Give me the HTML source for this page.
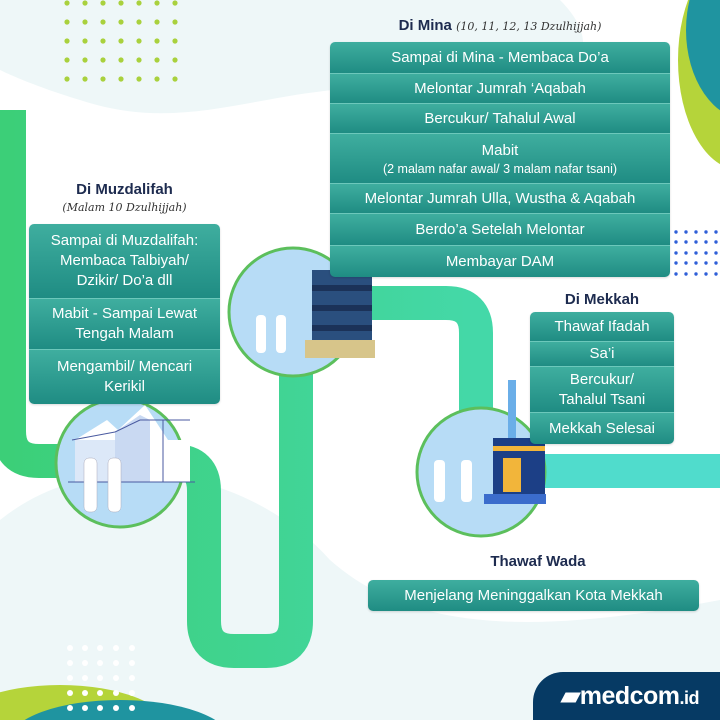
<!DOCTYPE html>
<html><head><meta charset="utf-8"><style>
*{margin:0;padding:0;box-sizing:border-box}
html,body{width:720px;height:720px;overflow:hidden}
body{background:#fff;font-family:"Liberation Sans",sans-serif;position:relative}
svg.bg{position:absolute;left:0;top:0;overflow:hidden}
.box{position:absolute;border-radius:5px;overflow:hidden;box-shadow:0 1px 2px rgba(0,0,0,.15)}
.row{color:#fff;text-align:center;font-size:15px;background:linear-gradient(#3fae9f,#1f8c83);border-bottom:1.5px solid #6cc8bb;display:flex;flex-direction:column;justify-content:center;line-height:20px}
.row:last-child{border-bottom:none}
.row small{font-size:12.5px;line-height:16px}
.h{position:absolute;color:#1d2b4f;font-weight:bold;font-size:15px;text-align:center}
.hw{font-family:"DejaVu Serif",serif;font-style:italic;font-weight:normal;font-size:11px;color:#333}
</style></head><body>
<svg class="bg" width="720" height="720" viewBox="0 0 720 720">
<defs>
<linearGradient id="g1" x1="0" x2="1"><stop offset="0" stop-color="#3ccf78"/><stop offset="1" stop-color="#44d8a8"/></linearGradient>
</defs>
<path d="M0 0 H560 C620 60 560 110 420 90 C280 75 200 140 80 100 C30 85 0 70 0 70 Z" fill="#eef7f8"/>
<path d="M0 520 C100 440 250 470 330 560 C420 640 560 630 720 600 V720 H0 Z" fill="#eef7f8"/>
<ellipse cx="740" cy="60" rx="62" ry="110" fill="#b5d43a"/>
<ellipse cx="748" cy="30" rx="62" ry="90" fill="#1f94a0"/>
<ellipse cx="60" cy="730" rx="110" ry="45" fill="#b5d43a"/>
<ellipse cx="120" cy="740" rx="110" ry="40" fill="#1f94a0"/>
<g fill="#a9d13d">
<g id="dr"><circle cx="67" cy="3" r="2.6"/><circle cx="85" cy="3" r="2.6"/><circle cx="103" cy="3" r="2.6"/><circle cx="121" cy="3" r="2.6"/><circle cx="139" cy="3" r="2.6"/><circle cx="157" cy="3" r="2.6"/><circle cx="175" cy="3" r="2.6"/></g>
<use href="#dr" y="19"/><use href="#dr" y="38"/><use href="#dr" y="57"/><use href="#dr" y="76"/>
</g>
<g fill="#2f5fd8">
<g id="br"><circle cx="676" cy="232" r="1.7"/><circle cx="686" cy="232" r="1.7"/><circle cx="696" cy="232" r="1.7"/><circle cx="706" cy="232" r="1.7"/><circle cx="716" cy="232" r="1.7"/></g>
<use href="#br" y="10"/><use href="#br" y="21"/><use href="#br" y="31"/><use href="#br" y="42"/>
</g>
<g fill="#fff">
<g id="wr"><circle cx="70" cy="648" r="3"/><circle cx="85" cy="648" r="3"/><circle cx="100" cy="648" r="3"/><circle cx="116" cy="648" r="3"/><circle cx="132" cy="648" r="3"/></g>
<use href="#wr" y="15"/><use href="#wr" y="30"/><use href="#wr" y="45"/><use href="#wr" y="60"/>
</g>
<path d="M218 500 V640 Q218 665 243 665 H270 Q290 665 290 640 V330" fill="none" stroke="#e3efe8" stroke-width="2"/>
<path d="M9 110 V431 Q9 461 39 461 H174 Q204 461 204 491 V621 Q204 651 234 651 H266 Q296 651 296 621 V333 Q296 303 326 303 H446 Q476 303 476 333 V440" fill="none" stroke="url(#g1)" stroke-width="34"/>
<path d="M476 430 V441 Q476 471 506 471 H720" fill="none" stroke="#50dccc" stroke-width="34"/>
<g stroke="#5cbf5c" stroke-width="3" fill="#b7dcf6">
<circle cx="120" cy="463" r="64"/><circle cx="293" cy="312" r="64"/><circle cx="481" cy="472" r="64"/>
</g>
<!-- tents -->
<path d="M75 440 L107 420 L118 430 L145 405 L168 440 Z" fill="#fff"/>
<path d="M75 440 H190 V482 H75Z" fill="#fff"/>
<path d="M75 440 H115 V482 H75Z" fill="#dce8f8"/>
<path d="M115 432 L140 415 L150 420 L150 482 H115Z" fill="#c9d9f2"/>
<line x1="72" y1="440" x2="115" y2="432" stroke="#4a5aa0" stroke-width="1"/>
<line x1="115" y1="432" x2="140" y2="420" stroke="#4a5aa0" stroke-width="1"/>
<line x1="140" y1="420" x2="190" y2="420" stroke="#4a5aa0" stroke-width="1"/>
<line x1="163" y1="420" x2="163" y2="482" stroke="#4a5aa0" stroke-width="1"/>
<line x1="68" y1="482" x2="195" y2="482" stroke="#4a5aa0"/>
<g fill="#fff" stroke="#aab" stroke-width=".5"><rect x="84" y="458" width="13" height="54" rx="5"/><rect x="108" y="458" width="13" height="54" rx="5"/></g>
<!-- mina -->
<rect x="312" y="270" width="60" height="70" fill="#2a4f7e"/>
<rect x="312" y="285" width="60" height="6" fill="#1b3258"/><rect x="312" y="305" width="60" height="6" fill="#1b3258"/><rect x="312" y="325" width="60" height="6" fill="#1b3258"/>
<rect x="305" y="340" width="70" height="18" fill="#d7c58a"/>
<g fill="#fff"><rect x="256" y="315" width="10" height="38" rx="4"/><rect x="276" y="315" width="10" height="38" rx="4"/></g>
<!-- mekkah -->
<rect x="508" y="380" width="8" height="60" fill="#6aaee8"/>
<rect x="493" y="438" width="52" height="56" fill="#1c3f86"/>
<rect x="493" y="446" width="52" height="5" fill="#f2b53a"/>
<rect x="503" y="458" width="18" height="34" fill="#f2b53a"/>
<rect x="484" y="494" width="62" height="10" fill="#3b6ccc"/>
<g fill="#fff"><rect x="434" y="460" width="11" height="42" rx="4"/><rect x="461" y="460" width="11" height="42" rx="4"/></g>
</svg>
<div style="position:absolute;left:533px;top:672px;width:187px;height:48px;overflow:hidden;background:#063a64;border-top-left-radius:30px;color:#fff;font-weight:bold;font-size:25px;line-height:48px;padding-left:28px;letter-spacing:-0.5px">▰medcom<span style="font-size:18px">.id</span></div>

<div class="h" style="left:330px;top:17px;width:340px">Di Mina <span class="hw">(10, 11, 12, 13 Dzulhijjah)</span></div>
<div class="box" style="left:330px;top:42px;width:340px;height:235px">
<div class="row" style="height:32px">Sampai di Mina - Membaca Do’a</div>
<div class="row" style="height:30px">Melontar Jumrah ‘Aqabah</div>
<div class="row" style="height:30px">Bercukur/ Tahalul Awal</div>
<div class="row" style="height:50px">Mabit<small>(2 malam nafar awal/ 3 malam nafar tsani)</small></div>
<div class="row" style="height:30px">Melontar Jumrah Ulla, Wustha &amp; Aqabah</div>
<div class="row" style="height:32px">Berdo’a Setelah Melontar</div>
<div class="row" style="height:31px">Membayar DAM</div>
</div>

<div class="h" style="left:29px;top:181px;width:191px">Di Muzdalifah<br><span class="hw">(Malam 10 Dzulhijjah)</span></div>
<div class="box" style="left:29px;top:224px;width:191px;height:180px">
<div class="row" style="height:75px">Sampai di Muzdalifah:<br>Membaca Talbiyah/<br>Dzikir/ Do’a dll</div>
<div class="row" style="height:51px">Mabit - Sampai Lewat<br>Tengah Malam</div>
<div class="row" style="height:54px">Mengambil/ Mencari<br>Kerikil</div>
</div>

<div class="h" style="left:530px;top:291px;width:144px">Di Mekkah</div>
<div class="box" style="left:530px;top:312px;width:144px;height:132px">
<div class="row" style="height:30px">Thawaf Ifadah</div>
<div class="row" style="height:25px">Sa’i</div>
<div class="row" style="height:46px">Bercukur/<br>Tahalul Tsani</div>
<div class="row" style="height:31px">Mekkah Selesai</div>
</div>

<div class="h" style="left:368px;top:553px;width:340px">Thawaf Wada</div>
<div class="box" style="left:368px;top:580px;width:331px;height:31px">
<div class="row" style="height:31px">Menjelang Meninggalkan Kota Mekkah</div>
</div>
</body></html>
